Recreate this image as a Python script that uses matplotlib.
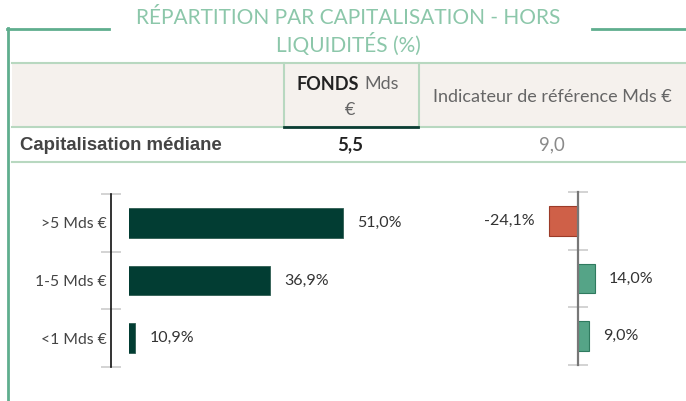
import matplotlib
matplotlib.use("Agg")
import matplotlib.pyplot as plt
from matplotlib.lines import Line2D
from matplotlib.patches import Rectangle

# ---- data ----
categories = [">5 Mds €", "1-5 Mds €", "<1 Mds €"]
fund_values = [51.0, 36.9, 10.9]
fund_labels = ["51,0%", "36,9%", "10,9%"]
diff_values = [-24.1, 14.0, 9.0]
diff_labels = ["-24,1%", "14,0%", "9,0%"]
title_lines = ["RÉPARTITION PAR CAPITALISATION - HORS", "LIQUIDITÉS (%)"]
row_label = "Capitalisation médiane"
fund_median = "5,5"
bench_median = "9,0"
col_fund = ("FONDS", "Mds", "€")
col_bench = "Indicateur de référence Mds €"

W, H = 686, 401
fig = plt.figure(figsize=(W / 100, H / 100), dpi=100)
FONT = "Lato"


def fx(x):
    return x / W


def fy(y):
    return 1 - y / H


def hline(x0, x1, y, color, lw):
    fig.add_artist(Line2D([fx(x0), fx(x1)], [fy(y), fy(y)], color=color, lw=lw,
                          transform=fig.transFigure))


def vline(x, y0, y1, color, lw):
    fig.add_artist(Line2D([fx(x), fx(x)], [fy(y0), fy(y1)], color=color, lw=lw,
                          transform=fig.transFigure))


# ---- title and frame ----
green_frame = "#5fae8e"
fig.text(fx(348), fy(18), title_lines[0], ha="center", va="center", fontsize=15,
         color="#8cc7aa", family=FONT)
fig.text(fx(348), fy(44), title_lines[1], ha="center", va="center", fontsize=15,
         color="#8cc7aa", family=FONT)
hline(7, 109, 29, green_frame, 2)
hline(592, 686, 29, green_frame, 2)
vline(7.5, 28, 401, green_frame, 2)

# ---- table ----
light_line = "#b8d8c0"
fig.add_artist(Rectangle((fx(12), fy(127)), fx(686) - fx(12), fy(63) - fy(127),
                         facecolor="#f5f1ed", edgecolor="none", transform=fig.transFigure))
hline(12, 686, 63, light_line, 1.5)
hline(12, 686, 127, light_line, 1.5)
vline(283.5, 63, 127, light_line, 1.5)
vline(418.5, 63, 127, light_line, 1.5)
hline(284, 418, 127, "#0b3d33", 2)

fig.text(fx(359), fy(84), col_fund[0], ha="right", va="center", fontsize=13,
         color="#222222", family=FONT, fontweight="bold")
fig.text(fx(364), fy(84), col_fund[1], ha="left", va="center", fontsize=13,
         color="#666666", family=FONT)
fig.text(fx(350), fy(110), col_fund[2], ha="center", va="center", fontsize=13,
         color="#666666", family=FONT)
fig.text(fx(552), fy(97), col_bench, ha="center", va="center", fontsize=13,
         color="#666666", family=FONT)

fig.text(fx(20), fy(145), row_label, ha="left", va="center", fontsize=13.4,
         color="#444444", family="Liberation Sans", fontweight="bold")
fig.text(fx(350), fy(145), fund_median, ha="center", va="center", fontsize=13.4,
         color="#222222", family=FONT, fontweight="bold")
fig.text(fx(552), fy(145), bench_median, ha="center", va="center", fontsize=13.4,
         color="#8a8a8a", family=FONT)
hline(12, 686, 162, light_line, 1.5)

# ---- left bar chart ----
px_per_unit = 5.18
x0_val = 9.7
ax_w = 300
axL = fig.add_axes([fx(129), fy(367), ax_w / W, (367 - 194) / H])
axL.set_xlim(x0_val, x0_val + ax_w / px_per_unit)
axL.set_ylim(2.5, -0.5)
ypos = list(range(len(categories)))
axL.barh(ypos, fund_values, height=0.51, color="#023d33", edgecolor="#2f5d52", lw=0.6)
for y, v, lab in zip(ypos, fund_values, fund_labels):
    axL.annotate(lab, (v, y), xytext=(14, 0), textcoords="offset pixels",
                 ha="left", va="center", fontsize=11.5, color="#333333", family=FONT)
for s in ["top", "right", "bottom"]:
    axL.spines[s].set_visible(False)
axL.spines["left"].set_position(("outward", 13))
axL.spines["left"].set_color("#111111")
axL.spines["left"].set_linewidth(1.2)
axL.set_xticks([])
axL.set_yticks(ypos)
axL.set_yticklabels(categories, fontsize=11.3, color="#444444", family=FONT)
axL.tick_params(axis="y", which="major", length=0, pad=3)
axL.set_yticks([-0.5, 0.5, 1.5, 2.5], minor=True)
axL.tick_params(axis="y", which="minor", length=15, direction="inout",
                color="#cccccc", width=1.2)
axL.patch.set_visible(False)

# ---- right bar chart ----
px_r = 1.2
axR = fig.add_axes([fx(490), fy(365), 190 / W, (365 - 192) / H])
axR.set_xlim(-(578 - 490) / px_r, (680 - 578) / px_r)
axR.set_ylim(2.5, -0.5)
colors = ["#cf6048" if v < 0 else "#55a487" for v in diff_values]
edges = ["#9b3b28" if v < 0 else "#2f7a5f" for v in diff_values]
axR.barh(ypos, diff_values, height=0.51, color=colors, edgecolor=edges, lw=0.8)
for y, v, lab in zip(ypos, diff_values, diff_labels):
    off = 14 if v >= 0 else -14
    axR.annotate(lab, (v, y), xytext=(off, 0), textcoords="offset pixels",
                 ha="left" if v >= 0 else "right", va="center", fontsize=11.5,
                 color="#333333", family=FONT)
for s in ["top", "right", "bottom"]:
    axR.spines[s].set_visible(False)
axR.spines["left"].set_position(("data", 0))
axR.spines["left"].set_color("#777777")
axR.spines["left"].set_linewidth(1.6)
axR.set_xticks([])
axR.set_yticks([])
axR.set_yticks([-0.5, 0.5, 1.5, 2.5], minor=True)
axR.tick_params(axis="y", which="minor", length=15, direction="inout",
                color="#cccccc", width=1.2, labelleft=False)
axR.patch.set_visible(False)

fig.savefig("out.png", dpi=100)
